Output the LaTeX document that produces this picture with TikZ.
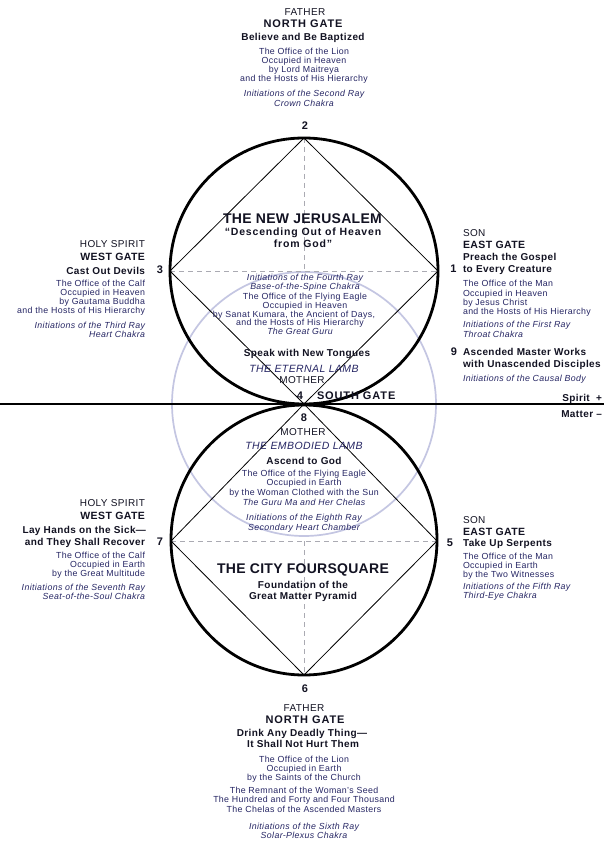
\documentclass[tikz,border=0pt]{standalone}
\usepackage{fontspec}
\setmainfont{Liberation Sans}
\newfontfamily\fA{Liberation Sans}[LetterSpace=4]
\newfontfamily\fB{Liberation Sans}[LetterSpace=8]
\newfontfamily\fT{Liberation Sans}[LetterSpace=2]
\definecolor{navy}{RGB}{38,38,100}
\definecolor{ink}{RGB}{18,18,34}
\definecolor{pale}{RGB}{196,198,226}
\definecolor{dsh}{RGB}{170,170,178}
\newcommand\Tx[4]{\node[#1] (#2) at (#3) {#4};}
\tikzset{
  txt/.style={inner sep=0pt, outer sep=0pt},
  ctr/.style={anchor=base},
  lft/.style={anchor=base east},
  rgt/.style={anchor=base west},
  body/.style={txt, text=navy, font=\fA\fontsize{8.8}{9}\selectfont},
  itl/.style={txt, text=navy, font=\fA\itshape\fontsize{8.8}{9}\selectfont},
  hd/.style={txt, text=ink, font=\fA\fontsize{10}{11}\selectfont},
  ngt/.style={txt, text=ink, font=\fB\bfseries\fontsize{11}{12}\selectfont},
  sgt/.style={txt, text=ink, font=\fA\bfseries\fontsize{10.5}{11}\selectfont},
  sub/.style={txt, text=ink, font=\fA\bfseries\fontsize{10}{11}\selectfont},
  ttl/.style={txt, text=ink, font=\fT\bfseries\fontsize{14}{15}\selectfont},
  quo/.style={txt, text=ink, font=\fB\bfseries\fontsize{10.5}{11}\selectfont},
  lmb/.style={txt, text=navy, font=\fA\itshape\fontsize{10.5}{11}\selectfont},
  num/.style={txt, text=ink, font=\bfseries\fontsize{11}{12}\selectfont},
  circ/.style={draw=black, line width=2.8pt},
  edge/.style={draw=black, line width=0.8pt},
  guide/.style={draw=dsh, line width=0.8pt, dash pattern=on 5pt off 4pt},
  palec/.style={draw=pale, line width=1.7pt},
}
\begin{document}
\begin{tikzpicture}[x=1pt,y=-1pt]
\useasboundingbox (0,0) rectangle (604,842);
\fill[white] (0,0) rectangle (604,842);
% key points
\coordinate (v2) at (304,138);
\coordinate (v3) at (170,271);
\coordinate (v1) at (438,271);
\coordinate (c1) at (304,271);
\coordinate (v4) at (304,404);
\coordinate (v7) at (171,541);
\coordinate (v5) at (437,541);
\coordinate (c2) at (304,541);
\coordinate (v6) at (304,675);
\coordinate (hl) at (0,404);
\coordinate (hr) at (604,404);
% pale circle
\draw[palec] (v4) circle [radius=132pt];
% dashed guides
\draw[guide] (v3) -- (v1);
\draw[guide] (v2) -- (c1);
\draw[guide] (v7) -- (v5);
\draw[guide] (c2) -- (v6);
% diamonds
\draw[edge] (v3) -- (v2) -- (v1);
\draw[edge] (v3) -- (v4) -- (v5);
\draw[edge] (v1) -- (v4) -- (v7);
\draw[edge] (v7) -- (v6) -- (v5);
% circles
\draw[circ] (c1) ellipse [x radius=134pt, y radius=133pt];
\draw[circ] (304,540) ellipse [x radius=133pt, y radius=135pt];
% spirit/matter line
\draw[line width=1.3pt] (hl) -- (hr);

% ---- top block
\Tx{hd,ctr}{t1}{305,15.5}{FATHER}
\Tx{ngt,ctr}{t2}{303,28}{NORTH GATE}
\Tx{sub,ctr}{t3}{303,40.5}{Believe and Be Baptized}
\Tx{body,ctr}{t4}{304,55}{The Office of the Lion}
\Tx{body,ctr}{t5}{304,64}{Occupied in Heaven}
\Tx{body,ctr}{t6}{304,73}{by Lord Maitreya}
\Tx{body,ctr}{t7}{304,82}{and the Hosts of His Hierarchy}
\Tx{itl,ctr}{t8}{304,97}{Initiations of the Second Ray}
\Tx{itl,ctr}{t9}{304,106.5}{Crown Chakra}
\Tx{num,ctr}{n2}{305,130}{2}

% ---- left upper
\Tx{hd,lft}{a1}{145,247.5}{HOLY SPIRIT}
\Tx{sgt,lft}{a2}{145,260}{WEST GATE}
\Tx{sub,lft}{a3}{145,274}{Cast Out Devils}
\Tx{body,lft}{a4}{145,286.7}{The Office of the Calf}
\Tx{body,lft}{a5}{145,295.7}{Occupied in Heaven}
\Tx{body,lft}{a6}{145,304.7}{by Gautama Buddha}
\Tx{body,lft}{a7}{145,313.7}{and the Hosts of His Hierarchy}
\Tx{itl,lft}{a8}{145,328.7}{Initiations of the Third Ray}
\Tx{itl,lft}{a9}{145,337.7}{Heart Chakra}
\Tx{num,ctr}{n3}{160,273}{3}

% ---- right upper
\Tx{hd,rgt}{b1}{463,236.7}{SON}
\Tx{sgt,rgt}{b2}{463,248.5}{EAST GATE}
\Tx{sub,rgt}{b3}{463,260}{Preach the Gospel}
\Tx{sub,rgt}{b4}{463,272}{to Every Creature}
\Tx{num,ctr}{n1}{453.5,272}{1}
\Tx{body,rgt}{b5}{463,286.7}{The Office of the Man}
\Tx{body,rgt}{b6}{463,296.2}{Occupied in Heaven}
\Tx{body,rgt}{b7}{463,305.5}{by Jesus Christ}
\Tx{body,rgt}{b8}{463,314.7}{and the Hosts of His Hierarchy}
\Tx{itl,rgt}{b9}{463,327.7}{Initiations of the First Ray}
\Tx{itl,rgt}{b10}{463,337.2}{Throat Chakra}
\Tx{num,ctr}{n9}{454,355}{9}
\Tx{sub,rgt}{b11}{463,355}{Ascended Master Works}
\Tx{sub,rgt}{b12}{463,367.5}{with Unascended Disciples}
\Tx{itl,rgt}{b13}{463,381}{Initiations of the Causal Body}

% ---- upper centre
\Tx{ttl,ctr}{u1}{302.5,223.3}{THE NEW JERUSALEM}
\Tx{quo,ctr}{u2}{303,235.2}{“Descending Out of Heaven}
\Tx{quo,ctr}{u3}{303,247}{from God”}
\Tx{itl,ctr}{u4}{305,280.5}{Initiations of the Fourth Ray}
\Tx{itl,ctr}{u5}{305,289.5}{Base-of-the-Spine Chakra}
\Tx{body,ctr}{u6}{305,299.5}{The Office of the Flying Eagle}
\Tx{body,ctr}{u7}{305,308.5}{Occupied in Heaven}
\Tx{body,ctr}{u8}{294,317.5}{by Sanat Kumara, the Ancient of Days,}
\Tx{body,ctr}{u9}{300,325.7}{and the Hosts of His Hierarchy}
\Tx{itl,ctr}{u10}{300,334.5}{The Great Guru}
\Tx{sub,ctr}{u11}{307,356.7}{Speak with New Tongues}
\Tx{lmb,ctr}{u12}{304,372.5}{THE ETERNAL LAMB}
\Tx{hd,ctr}{u13}{302,383.3}{MOTHER}
\Tx{num,ctr}{n4}{300,399.5}{4}
\Tx{ngt,rgt}{u14}{317,399.5}{SOUTH GATE}
\Tx{sub,lft}{sp}{602,401}{Spirit\ \ +}
\Tx{sub,lft}{mt}{602,417.5}{Matter –}

% ---- lower centre
\Tx{num,ctr}{n8}{304,421.5}{8}
\Tx{hd,ctr}{l1}{303,435.5}{MOTHER}
\Tx{lmb,ctr}{l2}{304,449.5}{THE EMBODIED LAMB}
\Tx{sub,ctr}{l3}{304,464.3}{Ascend to God}
\Tx{body,ctr}{l4}{304,476.7}{The Office of the Flying Eagle}
\Tx{body,ctr}{l5}{304,485.7}{Occupied in Earth}
\Tx{body,ctr}{l6}{304,495.5}{by the Woman Clothed with the Sun}
\Tx{itl,ctr}{l7}{304,505.5}{The Guru Ma and Her Chelas}
\Tx{itl,ctr}{l8}{304,520.5}{Initiations of the Eighth Ray}
\Tx{itl,ctr}{l9}{304,530.5}{Secondary Heart Chamber}
\Tx{ttl,ctr}{l10}{303,573}{THE CITY FOURSQUARE}
\Tx{sub,ctr}{l11}{303,588}{Foundation of the}
\Tx{sub,ctr}{l12}{303,599.5}{Great Matter Pyramid}

% ---- left lower
\Tx{hd,lft}{c1t}{145,506.3}{HOLY SPIRIT}
\Tx{sgt,lft}{c2t}{145,519.5}{WEST GATE}
\Tx{sub,lft}{c3t}{146,533.3}{Lay Hands on the Sick—}
\Tx{sub,lft}{c4t}{145,545}{and They Shall Recover}
\Tx{num,ctr}{n7}{160,545}{7}
\Tx{body,lft}{c5t}{145,558.7}{The Office of the Calf}
\Tx{body,lft}{c6t}{145,567.7}{Occupied in Earth}
\Tx{body,lft}{c7t}{145,576.7}{by the Great Multitude}
\Tx{itl,lft}{c8t}{145,590.7}{Initiations of the Seventh Ray}
\Tx{itl,lft}{c9t}{145,599.7}{Seat-of-the-Soul Chakra}

% ---- right lower
\Tx{hd,rgt}{d1}{463,523.3}{SON}
\Tx{sgt,rgt}{d2}{463,535.3}{EAST GATE}
\Tx{sub,rgt}{d3}{463,546.7}{Take Up Serpents}
\Tx{num,ctr}{n5}{450,546.7}{5}
\Tx{body,rgt}{d4}{463,559.7}{The Office of the Man}
\Tx{body,rgt}{d5}{463,568.7}{Occupied in Earth}
\Tx{body,rgt}{d6}{463,577.7}{by the Two Witnesses}
\Tx{itl,rgt}{d7}{463,589.7}{Initiations of the Fifth Ray}
\Tx{itl,rgt}{d8}{463,598.7}{Third-Eye Chakra}

% ---- bottom block
\Tx{num,ctr}{n6}{305,692}{6}
\Tx{hd,ctr}{e1}{304,711}{FATHER}
\Tx{ngt,ctr}{e2}{305,723.3}{NORTH GATE}
\Tx{sub,ctr}{e3}{302,736.7}{Drink Any Deadly Thing—}
\Tx{sub,ctr}{e4}{303,747.5}{It Shall Not Hurt Them}
\Tx{body,ctr}{e5}{304,762.5}{The Office of the Lion}
\Tx{body,ctr}{e6}{304,771.5}{Occupied in Earth}
\Tx{body,ctr}{e7}{304,780.5}{by the Saints of the Church}
\Tx{body,ctr}{e8}{304,793}{The Remnant of the Woman’s Seed}
\Tx{body,ctr}{e9}{304,802.5}{The Hundred and Forty and Four Thousand}
\Tx{body,ctr}{e10}{304,812}{The Chelas of the Ascended Masters}
\Tx{itl,ctr}{e11}{304,829}{Initiations of the Sixth Ray}
\Tx{itl,ctr}{e12}{304,838.3}{Solar-Plexus Chakra}
\end{tikzpicture}
\end{document}
